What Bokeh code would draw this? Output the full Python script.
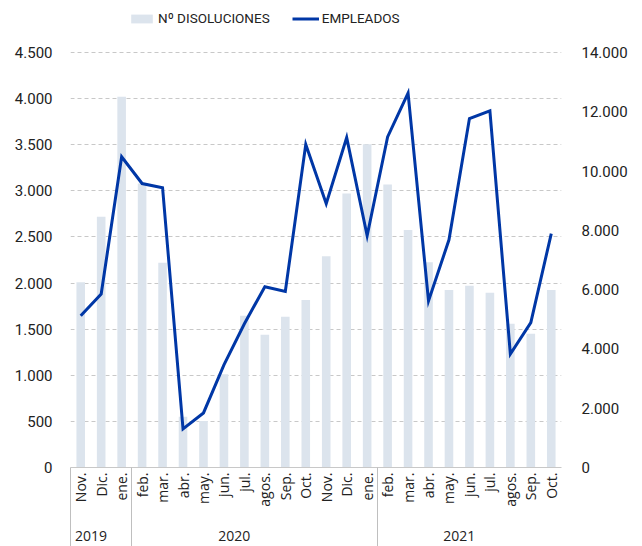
from math import pi
from bokeh.plotting import figure
from bokeh.models import (Range1d, LinearAxis, FixedTicker, Legend, LegendItem,
                          ColumnDataSource, Grid)
from bokeh.embed import file_html
from bokeh.resources import INLINE

months = ["Nov.", "Dic.", "ene.", "feb.", "mar.", "abr.", "may.", "jun.", "jul.",
          "agos.", "Sep.", "Oct.", "Nov.", "Dic.", "ene.", "feb.", "mar.", "abr.",
          "may.", "jun.", "jul.", "agos.", "Sep.", "Oct."]
years = ["2019", "2020", "2021"]
year_counts = [2, 12, 10]

disoluciones = [2010, 2720, 4020, 3080, 2220, 550, 505, 1010, 1645, 1440, 1635, 1815,
                2290, 2970, 3505, 3070, 2575, 2225, 1925, 1970, 1895, 1560, 1450, 1925]
empleados = [5120, 5850, 10480, 9580, 9440, 1300, 1840, 3460, 4850, 6100, 5940, 10900,
             8900, 11130, 7820, 11150, 12630, 5620, 7680, 11770, 12030, 3830, 4890, 7890]

left_ticks = [0, 500, 1000, 1500, 2000, 2500, 3000, 3500, 4000, 4500]
left_labels = ["0", "500", "1.000", "1.500", "2.000", "2.500", "3.000", "3.500", "4.000", "4.500"]
right_ticks = [0, 2000, 4000, 6000, 8000, 10000, 12000, 14000]
right_labels = ["0", "2.000", "4.000", "6.000", "8.000", "10.000", "12.000", "14.000"]

TEXT = "#222222"
NUM_FONT = "Roboto"
CAT_FONT = "Open Sans"

W, H = 642, 546
BORDER_L, BORDER_R, BORDER_B = 70, 81, 79
TOP_GAP = 52          # pixels between canvas top and the highest gridline
frame_h = H - BORDER_B
head = frame_h / (frame_h - TOP_GAP)   # frame extends above the last tick to hold the legend

x_idx = list(range(len(months)))
src = ColumnDataSource(dict(x=x_idx, dis=disoluciones, emp=empleados))

# year group centres and separators
starts = []
acc = 0
for c in year_counts:
    starts.append(acc)
    acc += c
year_centers = [s + (c - 1) / 2 for s, c in zip(starts, year_counts)]
cum = []
acc = 0
for c in year_counts[:-1]:
    acc += c
    cum.append(acc)
separators = [-0.5] + [c + 0.5 for c in cum]

p = figure(width=W, height=H, x_range=Range1d(-0.5, len(months) - 0.5),
           y_range=Range1d(left_ticks[0], left_ticks[-1] * head),
           output_backend="svg", toolbar_location=None,
           x_axis_location=None, y_axis_location=None,
           min_border_left=BORDER_L, min_border_right=BORDER_R,
           min_border_top=0, min_border_bottom=BORDER_B)
p.extra_y_ranges = {"right": Range1d(right_ticks[0], right_ticks[-1] * head)}
p.outline_line_color = None
p.grid.visible = False

grid = Grid(dimension=1, ticker=FixedTicker(ticks=left_ticks[1:]),
            grid_line_color="#c8c8c8", grid_line_dash="4 3", grid_line_width=1)
p.add_layout(grid)

bars = p.vbar(x="x", top="dis", width=0.42, source=src, fill_color="#dce4ed", line_color=None)
line = p.line(x="x", y="emp", source=src, y_range_name="right", line_width=3,
              line_color="#0037a6", line_join="miter")

left_axis = LinearAxis(ticker=FixedTicker(ticks=left_ticks),
                       major_label_overrides=dict(zip(left_ticks, left_labels)),
                       axis_line_color=None, major_tick_line_color=None,
                       minor_tick_line_color=None, major_label_standoff=12,
                       major_label_text_font=NUM_FONT, major_label_text_font_size="15px",
                       major_label_text_color=TEXT)
p.add_layout(left_axis, "left")

right_axis = LinearAxis(y_range_name="right", ticker=FixedTicker(ticks=right_ticks),
                        major_label_overrides=dict(zip(right_ticks, right_labels)),
                        axis_line_color=None, major_tick_line_color=None,
                        minor_tick_line_color=None, major_label_standoff=14,
                        major_label_text_font=NUM_FONT, major_label_text_font_size="15px",
                        major_label_text_color=TEXT)
p.add_layout(right_axis, "right")

month_axis = LinearAxis(ticker=FixedTicker(ticks=x_idx, minor_ticks=separators),
                        major_label_overrides=dict(zip(x_idx, months)),
                        major_label_orientation=pi / 2,
                        major_tick_line_color=None, major_tick_out=0, major_tick_in=0,
                        minor_tick_out=0, minor_tick_in=-90,
                        minor_tick_line_color="#bfbfbf", minor_tick_line_width=1,
                        axis_line_color="#c8c8c8", axis_line_width=1,
                        major_label_standoff=5,
                        major_label_text_font=CAT_FONT, major_label_text_font_size="14px",
                        major_label_text_color=TEXT)
p.add_layout(month_axis, "below")

year_axis = LinearAxis(ticker=FixedTicker(ticks=year_centers),
                       major_label_overrides=dict(zip(year_centers, years)),
                       axis_line_color=None, major_tick_line_color=None,
                       minor_tick_line_color=None, major_label_standoff=15,
                       major_label_text_font=CAT_FONT, major_label_text_font_size="14px",
                       major_label_text_color=TEXT)
p.add_layout(year_axis, "below")

legend = Legend(items=[LegendItem(label="Nº DISOLUCIONES", renderers=[bars]),
                       LegendItem(label="EMPLEADOS", renderers=[line])],
                orientation="horizontal", location=(58, frame_h - 26),
                glyph_width=27, glyph_height=11, label_standoff=3, spacing=22,
                padding=0, margin=0, border_line_color=None, background_fill_alpha=0,
                label_text_font=NUM_FONT, label_text_font_size="13.5px",
                label_text_color=TEXT)
p.add_layout(legend)

open("out.html", "w").write(file_html(p, INLINE))
